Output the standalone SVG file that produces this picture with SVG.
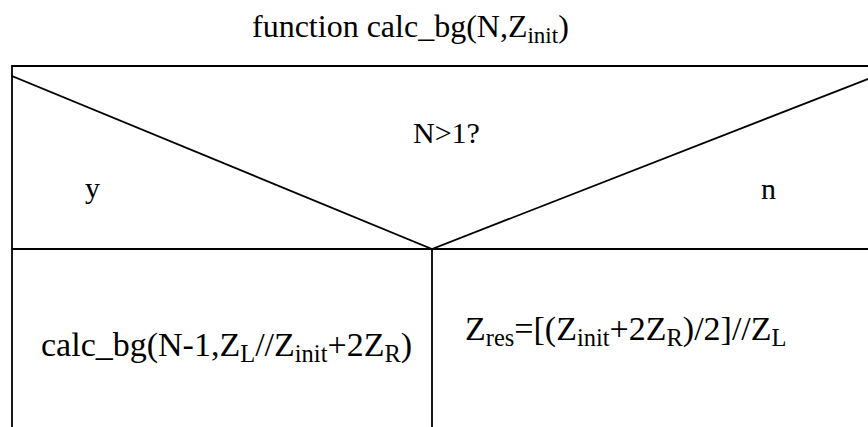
<svg xmlns="http://www.w3.org/2000/svg" width="868" height="427" viewBox="0 0 868 427">
<style>
  .t { font-family: "Liberation Serif", "Times New Roman", serif; fill: #000; }
  .ln { stroke: #000; stroke-width: 1.8; fill: none; stroke-linecap: square; }
  .sub { font-size: 72%; }
</style>
<rect width="868" height="427" fill="#fff"/>
<g id="title">
  <text class="t" x="252" y="37" font-size="32">function calc_bg(N,Z<tspan class="sub" dy="6">init</tspan><tspan dy="-6">)</tspan></text>
</g>
<g id="frame">
  <path class="ln" d="M12 66 H868 M12 66 V427 M12 249 H868 M432 249 V427"/>
</g>
<g id="decision">
  <path class="ln" d="M12 76 L432 249 L868 79"/>
  <text class="t" x="413" y="143" font-size="30">N&gt;1?</text>
</g>
<g id="label-y">
  <text class="t" x="85" y="198" font-size="30">y</text>
</g>
<g id="label-n">
  <text class="t" x="761" y="199" font-size="30">n</text>
</g>
<g id="branch-yes">
  <text class="t" x="41" y="356" font-size="34">calc_bg(N-1,Z<tspan class="sub" dy="6">L</tspan><tspan dy="-6">//Z</tspan><tspan class="sub" dy="6">init</tspan><tspan dy="-6">+2Z</tspan><tspan class="sub" dy="6">R</tspan><tspan dy="-6">)</tspan></text>
</g>
<g id="branch-no">
  <text class="t" x="465" y="340" font-size="34">Z<tspan class="sub" dy="6">res</tspan><tspan dy="-6">=[(Z</tspan><tspan class="sub" dy="6">init</tspan><tspan dy="-6">+2Z</tspan><tspan class="sub" dy="6">R</tspan><tspan dy="-6">)/2]//Z</tspan><tspan class="sub" dy="6">L</tspan></text>
</g>
<g id="connectors"></g>
</svg>
